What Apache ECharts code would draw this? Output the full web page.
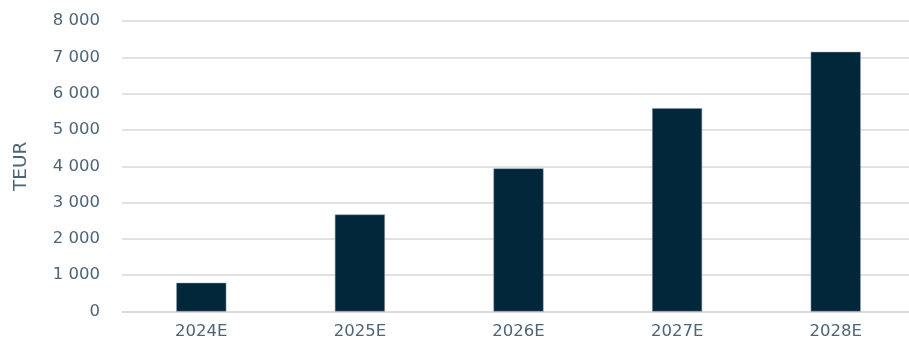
<!DOCTYPE html>
<html>
<head>
<meta charset="utf-8">
<script src="https://cdn.jsdelivr.net/npm/echarts@6/dist/echarts.min.js"></script>
<style>
html,body{margin:0;padding:0;background:#fff;}
#chart{width:909px;height:343px;}
</style>
</head>
<body>
<div id="chart"></div>
<script>
const categories = ["2024E", "2025E", "2026E", "2027E", "2028E"];
const values = [790, 2670, 3940, 5600, 7150];
const yTicks = [0, 1000, 2000, 3000, 4000, 5000, 6000, 7000, 8000];
const yAxisName = "TEUR";

const textColor = "#4e6579";
const fontFamily = "DejaVu Sans";

function fmt(v) {
  return String(v).replace(/\B(?=(\d{3})+(?!\d))/g, " ");
}

const chart = echarts.init(document.getElementById("chart"), null, {renderer: "canvas"});
chart.setOption({
  animation: false,
  backgroundColor: "#ffffff",
  grid: {left: 122, right: -6, top: 21, bottom: 31.5, containLabel: false, outerBoundsMode: "none"},
  xAxis: {
    type: "category",
    data: categories,
    axisLine: {show: true, lineStyle: {color: "#d9d9d9", width: 1.5}},
    axisTick: {show: false},
    axisLabel: {color: textColor, fontFamily: fontFamily, fontSize: 16.5, margin: 12}
  },
  yAxis: {
    type: "value",
    min: yTicks[0],
    max: yTicks[yTicks.length - 1],
    interval: 1000,
    name: yAxisName,
    nameLocation: "middle",
    nameRotate: 90,
    nameGap: 91,
    nameTextStyle: {color: textColor, fontFamily: fontFamily, fontSize: 18.5},
    axisLine: {show: false},
    axisTick: {show: false},
    splitLine: {lineStyle: {color: "#d9d9d9", width: 1.5}},
    axisLabel: {color: textColor, fontFamily: fontFamily, fontSize: 16.5, margin: 22, formatter: fmt}
  },
  series: [{
    type: "bar",
    data: values,
    barWidth: 50,
    itemStyle: {color: "#02263a", borderColor: "#8a9aa6", borderWidth: 0.5}
  }]
});
</script>
</body>
</html>
